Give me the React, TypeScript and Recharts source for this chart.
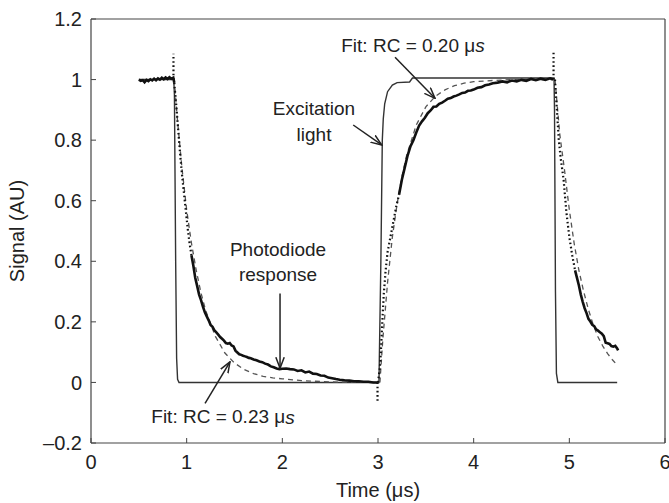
import React from 'react';
import { LineChart, Line, XAxis, YAxis, ReferenceLine, ReferenceDot } from 'recharts';

type P = [number, number];

const xTicks = [0, 1, 2, 3, 4, 5, 6];
const yTicks = [-0.2, 0, 0.2, 0.4, 0.6, 0.8, 1, 1.2];

// Excitation light (thin solid line)
const excitation: P[] = [
  [0.5, 1.0], [0.865, 1.0], [0.872, 0.95], [0.885, 0.4], [0.895, 0.08], [0.905, 0.01], [0.92, 0.0],
  [3.01, 0.0], [3.03, 0.4], [3.045, 0.8], [3.055, 0.87], [3.07, 0.92], [3.1, 0.96], [3.15, 0.982],
  [3.2, 0.99], [3.33, 0.992], [3.36, 1.005], [4.84, 1.005], [4.845, 0.9], [4.855, 0.3], [4.865, 0.03],
  [4.88, 0.0], [5.5, 0.0],
];

// Photodiode response: slow (dense) portions, drawn thick
const photoTop1: P[] = [
  [0.5, 1.0], [0.52, 0.996], [0.54, 0.998], [0.56, 0.991], [0.58, 0.999], [0.6, 0.995], [0.62, 1.001],
  [0.64, 0.997], [0.66, 1.003], [0.68, 0.998], [0.7, 1.004], [0.72, 1.0], [0.74, 1.006], [0.76, 1.001],
  [0.78, 1.007], [0.8, 1.002], [0.82, 1.008], [0.84, 1.003], [0.86, 1.006], [0.87, 0.99],
];
const photoDecay1: P[] = [
  [1.05, 0.42], [1.07, 0.385], [1.09, 0.345], [1.11, 0.318], [1.13, 0.29], [1.15, 0.272], [1.17, 0.25],
  [1.19, 0.232], [1.21, 0.218], [1.23, 0.205], [1.25, 0.19], [1.27, 0.184], [1.29, 0.172], [1.31, 0.165],
  [1.33, 0.158], [1.35, 0.15], [1.37, 0.144], [1.39, 0.138], [1.41, 0.13], [1.43, 0.128], [1.45, 0.13],
  [1.47, 0.122], [1.49, 0.119], [1.51, 0.105], [1.53, 0.099], [1.55, 0.093], [1.57, 0.091], [1.59, 0.088],
  [1.61, 0.086], [1.63, 0.084], [1.65, 0.081], [1.67, 0.08], [1.7, 0.076], [1.73, 0.073], [1.76, 0.069],
  [1.79, 0.067], [1.82, 0.062], [1.85, 0.059], [1.88, 0.053], [1.91, 0.05], [1.94, 0.046], [1.97, 0.044],
  [2.0, 0.045], [2.04, 0.046], [2.08, 0.044], [2.12, 0.043], [2.16, 0.038], [2.2, 0.04], [2.24, 0.033],
  [2.28, 0.036], [2.32, 0.029], [2.36, 0.028], [2.4, 0.023], [2.44, 0.022], [2.48, 0.016], [2.52, 0.014],
  [2.56, 0.011], [2.6, 0.009], [2.65, 0.007], [2.7, 0.006], [2.75, 0.004], [2.8, 0.004], [2.85, 0.002],
  [2.9, 0.002], [2.95, 0.0], [2.99, 0.0],
];
const photoRiseSlow: P[] = [
  [3.22, 0.62], [3.25, 0.67], [3.28, 0.71], [3.31, 0.75], [3.34, 0.78], [3.37, 0.8], [3.4, 0.825],
  [3.43, 0.848], [3.46, 0.862], [3.49, 0.874], [3.52, 0.889], [3.55, 0.898], [3.58, 0.91], [3.61, 0.911],
  [3.64, 0.92], [3.67, 0.924], [3.7, 0.93], [3.73, 0.937], [3.76, 0.939], [3.79, 0.944], [3.82, 0.947],
  [3.85, 0.951], [3.88, 0.956], [3.91, 0.957], [3.94, 0.963], [3.97, 0.964], [4.0, 0.967], [4.04, 0.973],
  [4.08, 0.975], [4.12, 0.981], [4.16, 0.984], [4.2, 0.988], [4.25, 0.99], [4.3, 0.994], [4.35, 0.991],
  [4.4, 0.997], [4.45, 0.994], [4.5, 0.999], [4.55, 0.996], [4.6, 1.002], [4.65, 0.998], [4.7, 1.003],
  [4.75, 0.999], [4.8, 1.004], [4.83, 1.0],
];
const photoDecay2: P[] = [
  [5.06, 0.37], [5.08, 0.345], [5.1, 0.32], [5.12, 0.29], [5.14, 0.266], [5.16, 0.245], [5.18, 0.229],
  [5.2, 0.21], [5.22, 0.201], [5.24, 0.19], [5.26, 0.186], [5.28, 0.175], [5.3, 0.171], [5.32, 0.166],
  [5.34, 0.161], [5.36, 0.153], [5.38, 0.131], [5.4, 0.129], [5.42, 0.127], [5.44, 0.12], [5.46, 0.118],
  [5.48, 0.121], [5.5, 0.112], [5.51, 0.106],
];

// Photodiode response: fast (sparse) portions, drawn dotted
const photoFall1: P[] = [
  [0.87, 0.99], [0.89, 0.92], [0.91, 0.84], [0.93, 0.76], [0.95, 0.69], [0.97, 0.63], [0.99, 0.57],
  [1.01, 0.51], [1.03, 0.46], [1.05, 0.42],
];
const photoSpike1: P[] = [[0.862, 1.0], [0.862, 1.085]];
const photoSpike2: P[] = [[2.995, 0.0], [2.995, -0.068]];
const photoRiseFast: P[] = [
  [3.0, 0.0], [3.02, 0.05], [3.03, 0.1], [3.045, 0.2], [3.06, 0.29], [3.08, 0.37], [3.1, 0.43],
  [3.13, 0.48], [3.16, 0.53], [3.19, 0.58], [3.22, 0.62],
];
const photoSpike3: P[] = [[4.835, 1.0], [4.835, 1.09]];
const photoFall2: P[] = [
  [4.85, 1.0], [4.87, 0.9], [4.89, 0.8], [4.91, 0.74], [4.94, 0.67], [4.97, 0.56], [5.0, 0.48],
  [5.03, 0.42], [5.06, 0.37],
];

// Exponential fits (dashed)
const fitFall1: P[] = [
  [0.87, 1.0], [0.9, 0.88], [0.95, 0.71], [1.0, 0.57], [1.05, 0.46], [1.1, 0.37], [1.15, 0.295],
  [1.2, 0.236], [1.3, 0.152], [1.4, 0.097], [1.5, 0.064], [1.6, 0.043], [1.7, 0.029], [1.8, 0.02],
  [1.9, 0.015], [2.0, 0.012], [2.2, 0.006], [2.4, 0.003], [2.6, 0.001], [2.8, 0.0], [3.0, 0.0],
];
const fitRise: P[] = [
  [3.02, 0.0], [3.05, 0.14], [3.1, 0.33], [3.15, 0.48], [3.2, 0.59], [3.25, 0.68], [3.3, 0.75],
  [3.4, 0.85], [3.5, 0.91], [3.6, 0.945], [3.7, 0.966], [3.8, 0.98], [3.9, 0.988], [4.0, 0.993],
  [4.2, 0.997], [4.4, 1.0], [4.84, 1.0],
];
const fitFall2: P[] = [
  [4.85, 1.0], [4.9, 0.82], [4.95, 0.7], [5.0, 0.57], [5.05, 0.46], [5.1, 0.37], [5.15, 0.3],
  [5.2, 0.24], [5.25, 0.19], [5.3, 0.15], [5.35, 0.12], [5.4, 0.095], [5.45, 0.075], [5.5, 0.057],
];

// Annotations (data coordinates)
type Anno = { t: number; v: number; text: string; italic?: string };
const annoTexts: Anno[] = [
  { t: 3.366, v: 1.114, text: 'Fit: RC = 0.20 \u03bc', italic: 's' },
  { t: 2.331, v: 0.906, text: 'Excitation' },
  { t: 2.331, v: 0.82, text: 'light' },
  { t: 1.955, v: 0.44, text: 'Photodiode' },
  { t: 1.955, v: 0.355, text: 'response' },
  { t: 1.38, v: -0.113, text: 'Fit: RC = 0.23 \u03bc', italic: 's' },
];
const arrows: [P, P][] = [
  [[3.178, 1.074], [3.596, 0.938]],
  [[2.741, 0.85], [3.039, 0.784]],
  [[1.976, 0.294], [1.976, 0.047]],
  [[1.192, -0.069], [1.453, 0.068]],
];

const rows = (a: P[]) => a.map(([t, v]) => ({ t, v }));

const FONT = '"Liberation Sans", Arial, Helvetica, sans-serif';
const INK = '#222';
const FRAME = '#444';

const fmtY = (v: number) => (v < 0 ? `\u2013${Math.abs(v)}` : `${v}`);

const YTitle = (props: any) => {
  const vb = props.viewBox || {};
  const cx = vb.x + 17;
  const cy = vb.y + vb.height / 2;
  return (
    <text x={cx} y={cy} transform={`rotate(-90 ${cx} ${cy})`} textAnchor="middle" dominantBaseline="central"
      fontSize={20} fill={INK} fontFamily={FONT}>
      Signal (AU)
    </text>
  );
};

const XTitle = (props: any) => {
  const vb = props.viewBox || {};
  return (
    <text x={vb.x + vb.width / 2} y={vb.y + 47} textAnchor="middle" dominantBaseline="central"
      fontSize={20} fill={INK} fontFamily={FONT}>
      Time ({'\u03bc'}s)
    </text>
  );
};

const makeAnnoLabel = (a: Anno) => (props: any) => {
  const vb = props.viewBox || {};
  return (
    <text x={vb.x} y={vb.y} textAnchor="middle" dominantBaseline="central" fontSize={19} fill={INK} fontFamily={FONT}>
      {a.text}
      {a.italic ? <tspan fontStyle="italic">{a.italic}</tspan> : null}
    </text>
  );
};

export default function App() {
  const thick = { stroke: '#111', strokeWidth: 2.6, dot: false, isAnimationActive: false, type: 'linear' as const, xAxisId: 'b', yAxisId: 'l' };
  const dotted = { ...thick, strokeWidth: 2.2, strokeDasharray: '1.6 2.6' };
  const fit = { stroke: '#555', strokeWidth: 1.3, strokeDasharray: '5 4', dot: false, isAnimationActive: false, type: 'linear' as const, xAxisId: 'b', yAxisId: 'l' };

  return (
    <div style={{ position: 'absolute', left: 0, top: 0, width: 669, height: 503, background: '#fff' }}>
      <LineChart width={669} height={503} margin={{ top: 0, right: 0, bottom: 0, left: 0 }} style={{ fontFamily: FONT }}>
        <defs>
          <marker id="arrowHead" viewBox="0 0 12 10" refX="11" refY="5" markerWidth="12" markerHeight="10"
            orient="auto" markerUnits="userSpaceOnUse">
            <path d="M0,0.8 L11,5 L0,9.2" fill="none" stroke={INK} strokeWidth={1.5} />
          </marker>
        </defs>
        <XAxis xAxisId="b" dataKey="t" type="number" domain={[0, 6]} ticks={xTicks} interval={0} orientation="bottom"
          height={60} allowDataOverflow tickSize={-5} tickMargin={17}
          axisLine={{ stroke: FRAME, strokeWidth: 1.2 }} tickLine={{ stroke: FRAME }}
          tick={{ fontSize: 20, fill: INK, fontFamily: FONT }} label={XTitle} />
        <XAxis xAxisId="t" dataKey="t" type="number" domain={[0, 6]} ticks={xTicks} interval={0} orientation="top"
          height={19} allowDataOverflow tickSize={-5} tick={false}
          axisLine={{ stroke: FRAME, strokeWidth: 1.2 }} tickLine={{ stroke: FRAME }} />
        <YAxis yAxisId="l" type="number" domain={[-0.2, 1.2]} ticks={yTicks} interval={0} width={91}
          allowDataOverflow tickSize={-5} tickMargin={14} tickFormatter={fmtY}
          axisLine={{ stroke: FRAME, strokeWidth: 1.2 }} tickLine={{ stroke: FRAME }}
          tick={{ fontSize: 20, fill: INK, fontFamily: FONT }} label={YTitle} />
        <YAxis yAxisId="r" orientation="right" type="number" domain={[-0.2, 1.2]} ticks={yTicks} interval={0} width={4}
          allowDataOverflow tickSize={-5} tick={false}
          axisLine={{ stroke: FRAME, strokeWidth: 1.2 }} tickLine={{ stroke: FRAME }} />

        <Line data={rows(excitation)} dataKey="v" stroke="#333" strokeWidth={1.4} dot={false} isAnimationActive={false}
          type="linear" xAxisId="b" yAxisId="l" />

        <Line data={rows(fitFall1)} dataKey="v" {...fit} />
        <Line data={rows(fitRise)} dataKey="v" {...fit} />
        <Line data={rows(fitFall2)} dataKey="v" {...fit} />

        <Line data={rows(photoTop1)} dataKey="v" {...thick} />
        <Line data={rows(photoDecay1)} dataKey="v" {...thick} />
        <Line data={rows(photoRiseSlow)} dataKey="v" {...thick} />
        <Line data={rows(photoDecay2)} dataKey="v" {...thick} />

        <Line data={rows(photoFall1)} dataKey="v" {...dotted} />
        <Line data={rows(photoSpike1)} dataKey="v" {...dotted} />
        <Line data={rows(photoSpike2)} dataKey="v" {...dotted} />
        <Line data={rows(photoRiseFast)} dataKey="v" {...dotted} />
        <Line data={rows(photoSpike3)} dataKey="v" {...dotted} />
        <Line data={rows(photoFall2)} dataKey="v" {...dotted} />

        {arrows.map(([a, b], i) => (
          <ReferenceLine key={`ar${i}`} xAxisId="b" yAxisId="l" segment={[{ x: a[0], y: a[1] }, { x: b[0], y: b[1] }]}
            stroke={INK} strokeWidth={1.5} markerEnd="url(#arrowHead)" ifOverflow="visible" />
        ))}
        {annoTexts.map((a, i) => (
          <ReferenceDot key={`tx${i}`} xAxisId="b" yAxisId="l" x={a.t} y={a.v} r={0} fill="none" stroke="none"
            ifOverflow="visible" label={makeAnnoLabel(a)} />
        ))}
      </LineChart>
    </div>
  );
}
